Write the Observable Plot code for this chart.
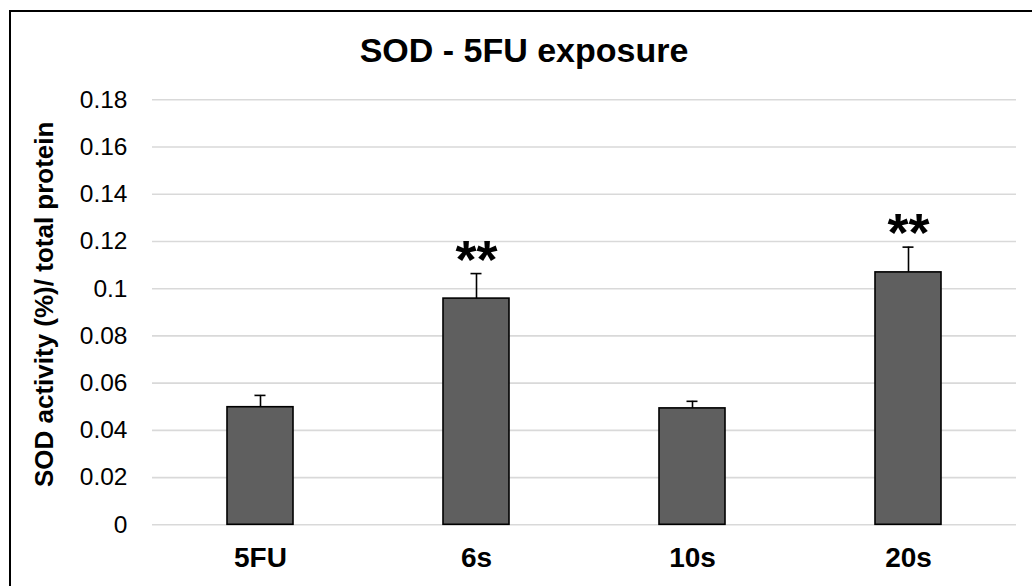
<!DOCTYPE html>
<html><head><meta charset="utf-8">
<script src="https://cdn.jsdelivr.net/npm/d3@7"></script>
<script src="https://cdn.jsdelivr.net/npm/@observablehq/plot@0.6"></script>
<style>
body{margin:0;background:#fff;overflow:hidden}
#wrap{position:relative;width:1032px;height:586px;overflow:hidden;font-family:"Liberation Sans",Arial,sans-serif;background:#fff}
#chart{position:absolute;left:0;top:0}
#frame{position:absolute;left:9px;top:10px;width:1100px;height:700px;border-top:2.5px solid #000;border-left:2.5px solid #000;box-sizing:border-box;pointer-events:none}
#title{position:absolute;left:0;top:32.9px;width:1048px;text-align:center;font-size:34px;line-height:34px;font-weight:bold;color:#000}
</style></head>
<body><div id="wrap"><div id="chart"></div><div id="frame"></div><div id="title">SOD - 5FU exposure</div></div>
<script>
const categories = ["5FU", "6s", "10s", "20s"];
const means = [0.0498, 0.0958, 0.0493, 0.1069];
const errors = [0.005, 0.0106, 0.003, 0.0107];
const stars = ["", "**", "", "**"];
const yTicks = [0, 0.02, 0.04, 0.06, 0.08, 0.1, 0.12, 0.14, 0.16, 0.18];
const yLabel = "SOD activity (%)/ total protein";

const data = categories.map((c, i) => ({cat: c, mean: means[i], err: errors[i], star: stars[i]}));
const errTop = d => d.mean + d.err;

const chart = Plot.plot({
  width: 1032,
  height: 586,
  marginLeft: 152,
  marginRight: 16,
  marginTop: 99.3,
  marginBottom: 61.7,
  style: {fontFamily: "'Liberation Sans', Arial, sans-serif", background: "transparent", color: "#000"},
  x: {domain: categories, padding: 0},
  y: {domain: [0, 0.18]},
  marks: [
    Plot.gridY(yTicks, {stroke: "#d9d9d9", strokeOpacity: 1, strokeWidth: 1.6}),
    Plot.axisY(yTicks, {tickSize: 0, tickPadding: 25, fontSize: 24.5, label: null,
      tickFormat: d => d === 0 ? "0" : String(d)}),
    Plot.axisX({tickSize: 0, tickPadding: 22, fontSize: 28, fontWeight: "bold", label: null}),
    Plot.text([yLabel], {frameAnchor: "left", text: d => d, rotate: -90, dx: -108, dy: -8,
      textAnchor: "middle", fontSize: 26, fontWeight: "bold", fill: "#000"}),
    Plot.barY(data, {x: "cat", y: "mean", fill: "#5f5f5f", stroke: "#000", strokeWidth: 1.6,
      insetLeft: 75, insetRight: 75}),
    Plot.ruleX(data, {x: "cat", y1: "mean", y2: errTop, stroke: "#000", strokeWidth: 1.6}),
    Plot.tickY(data, {x: "cat", y: errTop, stroke: "#000", strokeWidth: 1.6,
      insetLeft: 102.5, insetRight: 102.5}),
    Plot.text(data, {x: "cat", y: errTop, text: "star", lineAnchor: "bottom", dy: 4,
      fontSize: 54, fontWeight: "bold", fill: "#000"})
  ]
});
document.getElementById("chart").appendChild(chart);
</script>
</body></html>
